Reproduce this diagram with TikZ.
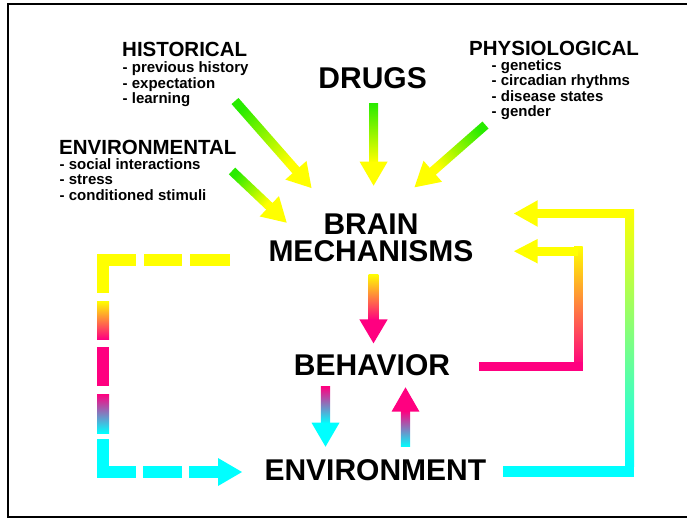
\documentclass[tikz,border=0pt]{standalone}
\usepackage{fontspec}
\setmainfont{Liberation Sans}
\usetikzlibrary{calc}
\definecolor{agreen}{RGB}{40,235,0}
\definecolor{ayellow}{RGB}{255,255,0}
\definecolor{apink}{RGB}{255,0,128}
\definecolor{acyan}{RGB}{0,255,255}
% gradient arrow: #1 start, #2 tip, #3 shaft half width, #4 head half width, #5 head length, #6 start colour, #7 end/head colour
\newcommand\gradarrow[7]{%
  \path (#1); \pgfgetlastxy{\gaxa}{\gaya}%
  \path (#2); \pgfgetlastxy{\gaxb}{\gayb}%
  \pgfmathsetmacro\gaang{atan2((\gayb)-(\gaya),(\gaxb)-(\gaxa))+90}%
  \coordinate (gab) at ($(#2)!#5!(#1)$);%
  \coordinate (gae) at ($(#2)!#5-0.8pt!(#1)$);%
  \shade[top color=#6,bottom color=#7,shading angle=\gaang]
    ($(#1)!#3!90:(#2)$) -- ($(gae)!#3!-90:(#1)$) -- ($(gae)!#3!90:(#1)$) -- ($(#1)!#3!-90:(#2)$) -- cycle;
  \fill[#7] (#2) -- ($(gab)!#4!90:(#1)$) -- ($(gab)!#4!-90:(#1)$) -- cycle;
}
\begin{document}
\begin{tikzpicture}[x=1pt,y=-1pt,
  mainlbl/.style={font=\fontsize{30}{26.7}\selectfont\bfseries, inner sep=0pt, anchor=base},
  headlbl/.style={font=\fontsize{20.5}{22}\selectfont\bfseries, inner sep=0pt, anchor=base west},
  itemlbl/.style={font=\fontsize{15}{15.5}\selectfont\bfseries, inner sep=0pt, anchor=base west}]
\useasboundingbox (0,0) rectangle (687,520);
\draw[line width=2.3pt] (8,4) rectangle (695,517);

% texts
\node[headlbl] (hist) at (122,56.7) {HISTORICAL};
\node[itemlbl] (histitems) at (122.5,72.7) {\vtop{\hbox{- previous history}\hbox{- expectation}\hbox{- learning}}};
\node[headlbl] (env) at (59,154) {ENVIRONMENTAL};
\node[itemlbl] (envitems) at (59.5,169.3) {\vtop{\hbox{- social interactions}\hbox{- stress}\hbox{- conditioned stimuli}}};
\node[headlbl] (phys) at (469,55) {PHYSIOLOGICAL};
\node[itemlbl] (physitems) at (491.5,70) {\vtop{\hbox{- genetics}\hbox{- circadian rhythms}\hbox{- disease states}\hbox{- gender}}};
\node[mainlbl] (drugs) at (372.6,88.3) {DRUGS};
\node[mainlbl, anchor=north, align=center] (brain) at (371,214) {BRAIN\\MECHANISMS};
\node[mainlbl] (behavior) at (372,375) {BEHAVIOR};
\node[mainlbl] (environment) at (375.4,480) {ENVIRONMENT};

% arrow end points
\coordinate (hA) at (235,101);   \coordinate (hB) at (311.5,188);
\coordinate (dA) at (373.6,103); \coordinate (dB) at (373.6,185.7);
\coordinate (pA) at (485.5,125); \coordinate (pB) at (414.5,187.3);
\coordinate (eA) at (232,171);   \coordinate (eB) at (286.7,222.7);
\coordinate (bA) at (373.5,274); \coordinate (bB) at (373.5,343.3);
\coordinate (vA) at (325.5,386.7); \coordinate (vB) at (325.5,446.7);
\coordinate (uA) at (405.5,446.7); \coordinate (uB) at (405.5,387.3);

\gradarrow{hA}{hB}{4.6pt}{14.1pt}{23.6pt}{agreen}{ayellow}
\gradarrow{dA}{dB}{4.6pt}{14pt}{24pt}{agreen}{ayellow}
\gradarrow{pA}{pB}{4.6pt}{14pt}{24.3pt}{agreen}{ayellow}
\gradarrow{eA}{eB}{4.6pt}{14pt}{23.9pt}{agreen}{ayellow}
\gradarrow{bA}{bB}{4.8pt}{14.2pt}{24pt}{ayellow}{apink}
\gradarrow{vA}{vB}{4.6pt}{14pt}{24pt}{apink}{acyan}
\gradarrow{uA}{uB}{4.6pt}{14pt}{24.4pt}{acyan}{apink}

% inner right loop: BEHAVIOR -> BRAIN MECHANISMS
\coordinate (ibT) at (514,251.2);
\shade[top color=ayellow, bottom color=apink] (574,246.7) rectangle (582.7,366);
\fill[apink] (479,362) rectangle (582.7,370.7);
\fill[ayellow] (537,246.7) rectangle (578,255.7);
\fill[ayellow] (ibT) -- (537.7,238.9) -- (537.7,263.5) -- cycle;

% outer right loop: ENVIRONMENT -> BRAIN MECHANISMS
\coordinate (obT) at (514,213.5);
\shade[top color=ayellow, bottom color=acyan] (625.3,209.3) rectangle (634,466);
\fill[acyan] (503.3,466) rectangle (634,476.7);
\fill[ayellow] (537,209.3) rectangle (626,218.3);
\fill[ayellow] (obT) -- (537.7,200.2) -- (537.7,226.8) -- cycle;

% left dashed loop: BRAIN MECHANISMS -> ENVIRONMENT
\coordinate (lbT) at (242,472);
\fill[ayellow] (190,254) rectangle (230,266);
\fill[ayellow] (144,254) rectangle (182,266);
\fill[ayellow] (97,254) rectangle (136,266);
\fill[ayellow] (97,254) rectangle (109,293);
\shade[top color=ayellow, bottom color=apink] (97,301) rectangle (109,339);
\fill[apink] (97,347) rectangle (109,386);
\shade[top color=apink, bottom color=acyan] (97,394) rectangle (109,433);
\fill[acyan] (97,439) rectangle (109,478);
\fill[acyan] (97,466) rectangle (136,478);
\fill[acyan] (143,466) rectangle (182,478);
\fill[acyan] (189,466) rectangle (219,478);
\fill[acyan] (218,458) -- (lbT) -- (218,486) -- cycle;
\end{tikzpicture}
\end{document}
